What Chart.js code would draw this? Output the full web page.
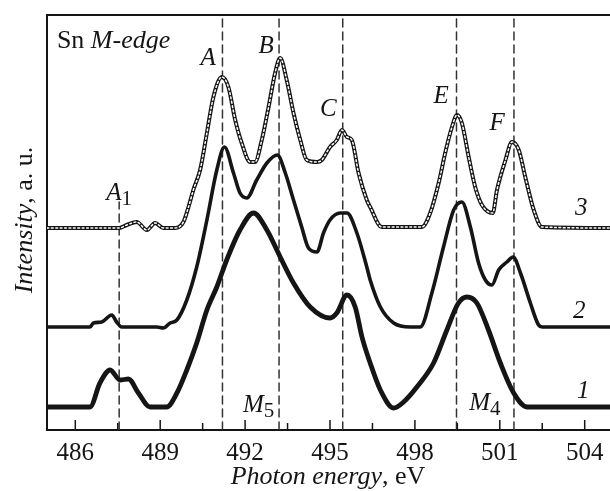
<!DOCTYPE html>
<html>
<head>
<meta charset="utf-8">
<script src="https://cdn.jsdelivr.net/npm/chart.js@4.4.1/dist/chart.umd.min.js"></script>
<style>
html,body{margin:0;padding:0;background:#fff;overflow:hidden;width:610px;height:491px;}
#wrap{width:613px;height:491px;}
</style>
</head>
<body>
<div id="wrap"><canvas id="c" width="613" height="491"></canvas></div>
<script>
// Photon energy (eV) and intensity (a.u., offset curves)
const energy1 = [485.0,486.52,486.87,487.23,487.58,487.88,488.23,488.64,489.23,489.59,489.94,490.29,490.65,491.0,491.35,491.82,492.3,492.77,493.24,493.71,494.3,495.0,495.24,495.6,495.89,496.13,496.42,496.78,497.25,497.6,498.07,498.66,499.13,499.54,499.84,500.19,500.6,501.02,501.49,501.96,505.0];
const intensity1 = [23,23,47,60,50,51,37,23,23,37,60,87,120,143,170,200,217,200,173,147,123,112,117,135,123,93,67,40,22,28,43,67,100,127,133,127,100,67,37,23,23];

const energy2 = [485.0,486.52,486.64,486.93,487.29,487.46,487.64,488.88,489.11,489.35,489.59,489.94,490.29,490.65,491.0,491.27,491.59,491.82,492.06,492.41,492.77,493.14,493.42,493.71,494.0,494.24,494.54,494.77,495.0,495.36,495.6,495.95,496.3,496.42,496.78,497.25,497.84,498.19,498.6,499.01,499.37,499.66,499.96,500.25,500.49,500.72,500.96,501.25,501.47,501.73,502.08,502.37,502.5,505.0];
const intensity2 = [103,103,107,108,115,108,103,103,102,107,110,130,163,210,260,283,257,237,232,250,267,275,257,230,203,182,178,197,210,217,217,197,163,150,123,107,103,103,137,183,220,228,203,167,150,145,160,168,173,157,127,105,103,103];

const energy3 = [485.0,487.55,487.82,488.17,488.53,488.82,489.11,489.53,489.82,490.0,490.17,490.41,490.65,490.88,491.18,491.41,491.65,491.88,492.18,492.35,492.59,492.83,493.06,493.24,493.47,493.71,493.95,494.18,494.54,494.71,495.0,495.24,495.42,495.6,495.77,496.01,496.3,496.42,496.83,498.25,498.54,498.84,499.07,499.31,499.49,499.66,499.9,500.13,500.37,500.75,500.9,501.2,501.43,501.67,501.9,502.2,502.49,505.0];
const intensity3 = [202,202,205,208,200,207,202,202,208,223,240,260,297,333,353,343,310,287,268,268,290,323,357,372,350,317,290,270,268,270,283,290,300,293,290,257,230,223,203,203,217,247,277,303,315,307,273,243,225,217,240,270,288,280,253,220,203,202];

// Vertical dashed guide lines (eV)
const markerEnergies = [491.2, 493.2, 495.45, 499.47, 501.5];
const markerA1 = 487.55;

// Axis ticks
const tickValues = [486, 489, 492, 495, 498, 501, 504];
const minorTickValues = [487.5, 490.5, 493.5, 496.5, 499.5, 502.5];

const YMAX = 415;
const INK = '#151515';
const FONT = '"Liberation Serif", "Times New Roman", serif';

const pts = (xs, ys) => xs.map((x, i) => ({x: x, y: ys[i]}));

const datasets = [];
datasets.push({data: pts(energy3, intensity3), borderColor: '#ffffff', borderWidth: 1.5, borderDash: [1.8, 2.6], pointRadius: 0, cubicInterpolationMode: 'monotone', order: 0});
datasets.push({data: pts(energy3, intensity3), borderColor: INK, borderWidth: 4, pointRadius: 0, cubicInterpolationMode: 'monotone', order: 1});
datasets.push({data: pts(energy2, intensity2), borderColor: INK, borderWidth: 3.6, pointRadius: 0, cubicInterpolationMode: 'monotone', order: 2});
datasets.push({data: pts(energy1, intensity1), borderColor: INK, borderWidth: 4.8, pointRadius: 0, cubicInterpolationMode: 'monotone', order: 3});
markerEnergies.forEach(e => datasets.push({data: [{x: e, y: 0}, {x: e, y: YMAX}], borderColor: '#333', borderWidth: 1.5, borderDash: [8, 5], pointRadius: 0, order: 10}));
datasets.push({data: [{x: markerA1, y: 0}, {x: markerA1, y: 228}], borderColor: '#333', borderWidth: 1.5, borderDash: [8, 5], pointRadius: 0, order: 10});

// Text annotations: anchor in data units (eV, intensity), baseline-aligned
const annotations = [
  {x: 485.35, y: 382, align: 'left', runs: [{t: 'Sn ', s: 26}, {t: 'M-edge', s: 26, i: true}]},
  {x: 490.69, y: 365, runs: [{t: 'A', s: 25, i: true}]},
  {x: 492.74, y: 377, runs: [{t: 'B', s: 25, i: true}]},
  {x: 494.94, y: 314, runs: [{t: 'C', s: 25, i: true}]},
  {x: 498.93, y: 327, runs: [{t: 'E', s: 25, i: true}]},
  {x: 500.91, y: 300, runs: [{t: 'F', s: 25, i: true}]},
  {x: 503.88, y: 215, runs: [{t: '3', s: 25, i: true}]},
  {x: 503.81, y: 112, runs: [{t: '2', s: 25, i: true}]},
  {x: 503.95, y: 32, runs: [{t: '1', s: 25, i: true}]},
  {x: 487.55, y: 230, runs: [{t: 'A', s: 25, i: true}, {t: '1', s: 21, dy: 5}]},
  {x: 492.48, y: 18, runs: [{t: 'M', s: 25, i: true}, {t: '5', s: 21, dy: 5}]},
  {x: 500.47, y: 20, runs: [{t: 'M', s: 25, i: true}, {t: '4', s: 21, dy: 5}]}
];

function font(r) { return (r.i ? 'italic ' : '') + r.s + 'px ' + FONT; }
function drawRuns(ctx, runs, x, y, align) {
  let w = 0;
  runs.forEach(r => { ctx.font = font(r); w += ctx.measureText(r.t).width; });
  let cx = align === 'left' ? x : x - w / 2;
  ctx.textAlign = 'left';
  ctx.textBaseline = 'alphabetic';
  runs.forEach(r => {
    ctx.font = font(r);
    ctx.fillText(r.t, cx, y + (r.dy || 0));
    cx += ctx.measureText(r.t).width;
  });
}

const decor = {
  id: 'decor',
  afterDraw(chart) {
    const ctx = chart.ctx, xs = chart.scales.x, ys = chart.scales.y, a = chart.chartArea;
    ctx.save();
    ctx.strokeStyle = INK; ctx.lineWidth = 1.5;
    tickValues.forEach(v => { const p = xs.getPixelForValue(v); ctx.beginPath(); ctx.moveTo(p, a.bottom); ctx.lineTo(p, a.bottom - 10); ctx.stroke(); });
    minorTickValues.forEach(v => { const p = xs.getPixelForValue(v); ctx.beginPath(); ctx.moveTo(p, a.bottom); ctx.lineTo(p, a.bottom - 7); ctx.stroke(); });
    ctx.fillStyle = INK;
    annotations.forEach(an => drawRuns(ctx, an.runs, xs.getPixelForValue(an.x), ys.getPixelForValue(an.y), an.align));
    // axis titles
    drawRuns(ctx, [{t: 'Photon energy', s: 26, i: true}, {t: ', eV', s: 26}], 328, 484);
    ctx.translate(32, 220);
    ctx.rotate(-Math.PI / 2);
    drawRuns(ctx, [{t: 'Intensity', s: 26, i: true}, {t: ', a. u.', s: 26}], 0, 0);
    ctx.restore();
  }
};

new Chart(document.getElementById('c'), {
  type: 'line',
  data: {datasets: datasets},
  options: {
    responsive: false,
    animation: false,
    devicePixelRatio: 1,
    layout: {padding: {top: 15, left: 0, right: 0, bottom: 0}},
    plugins: {legend: {display: false}, tooltip: {enabled: false}},
    elements: {line: {borderCapStyle: 'round', borderJoinStyle: 'round'}},
    scales: {
      x: {
        type: 'linear', min: 485, max: 505, position: 'bottom',
        afterFit(s) { s.height = 61; },
        afterBuildTicks(s) { s.ticks = tickValues.map(v => ({value: v})); },
        grid: {display: false, drawTicks: false},
        border: {display: true, color: INK, width: 2},
        ticks: {color: INK, font: {family: FONT, size: 25}, padding: 8, maxRotation: 0, autoSkip: false}
      },
      x2: {
        type: 'linear', min: 485, max: 505, position: 'top',
        afterFit(s) { s.height = 0; },
        grid: {display: false, drawTicks: false},
        border: {display: true, color: INK, width: 2},
        ticks: {display: false}
      },
      y: {
        type: 'linear', min: 0, max: YMAX,
        afterFit(s) { s.width = 47; },
        grid: {display: false, drawTicks: false},
        border: {display: true, color: INK, width: 2},
        ticks: {display: false}
      }
    }
  },
  plugins: [decor]
});
</script>
</body>
</html>
